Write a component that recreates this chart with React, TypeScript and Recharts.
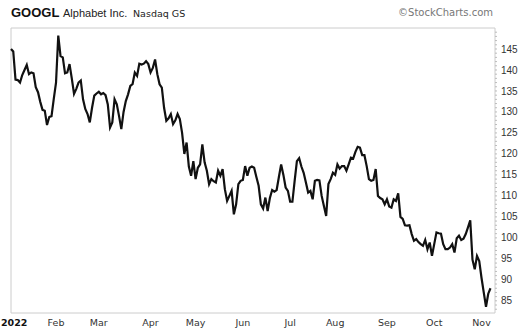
import { LineChart, Line, XAxis, YAxis, ReferenceArea } from "recharts";

// daily closes, Jan 3 2022 .. Nov 7 2022 (trading days)
const jan = [145.0, 144.4, 137.7, 137.6, 137.0, 138.8, 140.0, 141.2, 139.0, 139.4, 139.2, 135.9, 134.7, 132.4, 130.5, 130.3, 126.9, 128.8, 129.0, 133.1];
const feb = [137.0, 148.2, 143.3, 143.0, 139.2, 139.4, 141.4, 138.0, 134.3, 135.5, 137.0, 137.5, 133.0, 130.7, 129.5, 127.5, 131.0, 133.9, 134.4];
const mar = [134.8, 134.2, 134.5, 134.0, 131.8, 126.3, 127.5, 133.0, 131.8, 129.0, 125.9, 130.0, 132.6, 134.2, 136.2, 136.6, 139.4, 138.6, 141.5, 141.3, 141.5, 142.1, 141.4];
const apr = [139.4, 140.5, 142.5, 139.0, 136.6, 135.8, 131.0, 127.9, 128.5, 129.5, 127.1, 128.0, 129.5, 128.3, 125.0, 120.0, 122.7, 117.0, 114.8, 118.3];
const may = [114.0, 116.7, 117.5, 122.3, 118.0, 116.0, 112.8, 114.0, 113.5, 113.2, 116.0, 114.8, 116.4, 111.6, 108.8, 110.0, 111.2, 105.6, 108.0, 112.8, 113.6];
const jun = [113.8, 117.1, 114.8, 116.7, 117.0, 116.7, 114.5, 112.4, 108.0, 107.0, 109.6, 106.4, 109.5, 111.4, 111.0, 111.4, 114.5, 117.5, 115.0, 112.0, 111.2];
const jul = [108.6, 108.6, 113.6, 118.3, 119.0, 117.0, 115.5, 113.2, 110.8, 111.2, 109.2, 113.6, 113.8, 113.7, 110.0, 107.6, 105.2, 112.8, 114.0, 115.5];
const aug = [115.0, 117.5, 116.5, 117.1, 117.1, 116.0, 117.5, 119.1, 118.9, 120.5, 121.7, 121.5, 119.7, 119.7, 117.1, 114.0, 113.6, 113.8, 116.4, 110.0, 109.5, 109.2, 108.0];
const sep = [109.2, 107.5, 107.2, 109.2, 108.8, 110.6, 105.0, 104.5, 103.0, 102.9, 103.0, 100.9, 99.3, 99.7, 99.0, 98.5, 98.1, 99.5, 97.3, 98.9, 95.7];
const oct = [98.5, 101.3, 101.1, 101.0, 98.5, 97.3, 97.3, 97.7, 98.5, 96.5, 99.9, 100.5, 99.5, 99.8, 100.9, 102.5, 104.2, 94.8, 92.5, 95.7, 94.5];
const nov = [90.5, 87.0, 83.6, 86.7, 88.0];

const monthLabels = ["2022", "Feb", "Mar", "Apr", "May", "Jun", "Jul", "Aug", "Sep", "Oct", "Nov"];
const priceLabels = [85, 90, 95, 100, 105, 110, 115, 120, 125, 130, 135, 140, 145];

const months = [jan, feb, mar, apr, may, jun, jul, aug, sep, oct, nov];
const closes = months.flat();
const data = closes.map((close, i) => ({ i, close }));

const monthStarts: number[] = [];
let acc = 0;
months.forEach((m) => {
    monthStarts.push(acc);
    acc += m.length;
});

const minorTicks: number[] = [];
for (let v = 83; v <= 149; v++) minorTicks.push(v);

const Y_MIN = 82.1;
const Y_MAX = 150;
// a little empty room after the last bar
const X_MAX = closes.length + 1;

const XTick = (props: any) => {
    const { x, y, payload } = props;
    const idx = monthStarts.indexOf(payload.value);
    const label = monthLabels[idx];
    const first = idx === 0;
    return (
        <text
            x={first ? 1 : x}
            y={y + 13}
            textAnchor={first ? "start" : "middle"}
            fontFamily="DejaVu Sans, Verdana, sans-serif"
            fontSize={9.5}
            fontWeight={first ? "bold" : "normal"}
            fill={first ? "#111" : "#333"}
        >
            {label}
        </text>
    );
};

const YTick = (props: any) => {
    const { x, y, payload } = props;
    const major = priceLabels.includes(payload.value);
    return (
        <g>
            <line x1={x} x2={x + 2} y1={y} y2={y} stroke="#bbb" strokeWidth={1} />
            {major && (
                <text
                    x={x + 6}
                    y={y}
                    dy="0.355em"
                    fontFamily="Liberation Sans, Arial, sans-serif"
                    fontSize={10}
                    fill="#333"
                >
                    {payload.value}
                </text>
            )}
        </g>
    );
};

export default function App() {
    return (
        <div style={{ position: "absolute", left: 0, top: 0, width: 525, height: 328, background: "#fff" }}>
            <svg width={525} height={28} style={{ position: "absolute", left: 0, top: 0 }}>
                <text x={11} y={17} fontFamily="Liberation Sans, Arial, sans-serif" fontWeight="bold" fontSize={13} fill="#111">
                    GOOGL
                </text>
                <text x={63} y={17} fontFamily="Liberation Sans, Arial, sans-serif" fontSize={11} fill="#222">
                    Alphabet Inc.
                </text>
                <text x={133} y={17} fontFamily="DejaVu Sans, Verdana, sans-serif" fontSize={9.5} fill="#222">
                    Nasdaq GS
                </text>
                <text x={493} y={16} textAnchor="end" fontFamily="DejaVu Sans, Verdana, sans-serif" fontSize={10} fill="#777">
                    ©StockCharts.com
                </text>
            </svg>
            <div style={{ position: "absolute", left: 0, top: 0 }}>
                <LineChart width={525} height={328} data={data} margin={{ top: 28, right: 0, bottom: 0, left: 11 }}>
                    <ReferenceArea
                        x1={0}
                        x2={X_MAX}
                        y1={Y_MIN}
                        y2={Y_MAX}
                        fill="none"
                        stroke="#ccc"
                        strokeWidth={1}
                        ifOverflow="visible"
                    />
                    <XAxis
                        dataKey="i"
                        type="number"
                        domain={[0, X_MAX]}
                        ticks={monthStarts}
                        tick={<XTick />}
                        tickLine={false}
                        axisLine={false}
                        tickSize={0}
                        tickMargin={0}
                        height={15}
                        interval={0}
                    />
                    <YAxis
                        orientation="right"
                        type="number"
                        domain={[Y_MIN, Y_MAX]}
                        ticks={minorTicks}
                        tick={<YTick />}
                        tickLine={false}
                        axisLine={false}
                        tickSize={0}
                        tickMargin={0}
                        width={30}
                        interval={0}
                    />
                    <Line
                        type="linear"
                        dataKey="close"
                        stroke="#111"
                        strokeWidth={2.2}
                        dot={false}
                        isAnimationActive={false}
                    />
                </LineChart>
            </div>
        </div>
    );
}
